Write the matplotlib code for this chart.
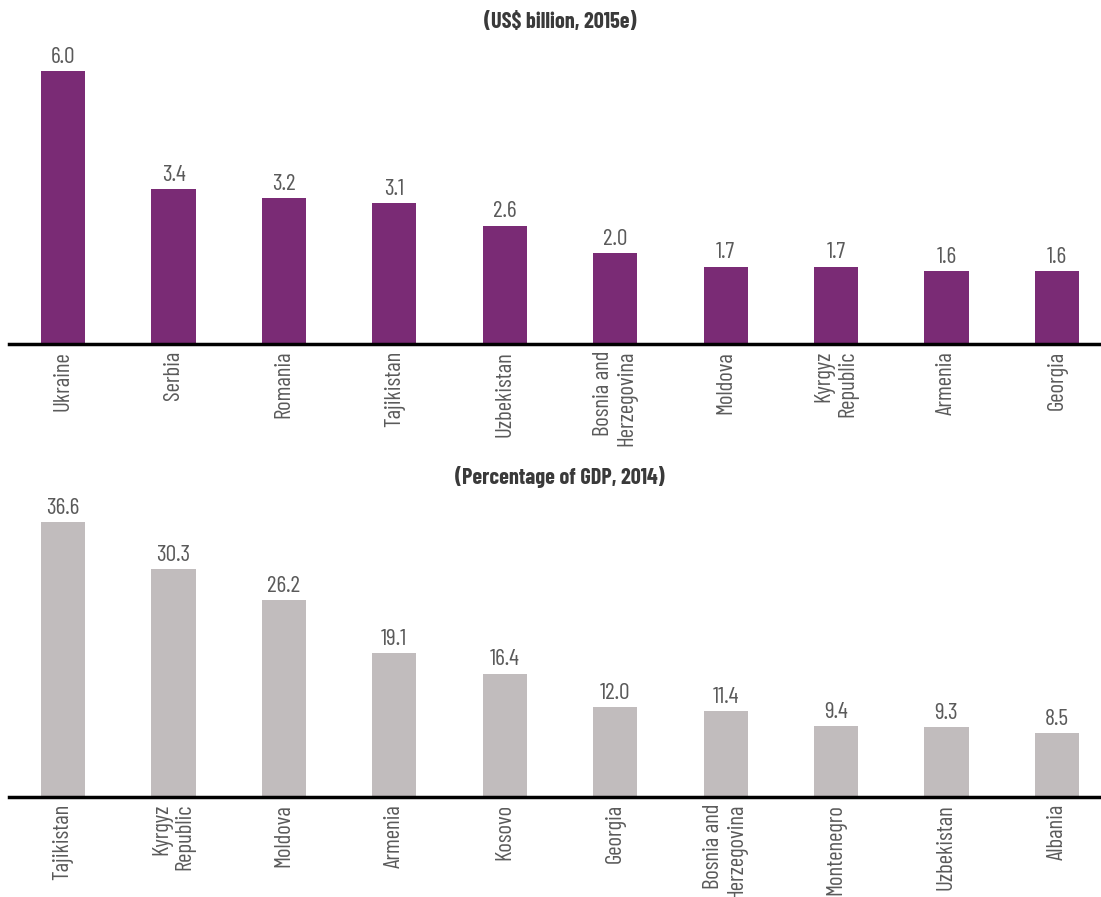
import matplotlib.pyplot as plt

# Remittance inflows
top_countries = ['Ukraine', 'Serbia', 'Romania', 'Tajikistan', 'Uzbekistan',
                 'Bosnia and\nHerzegovina', 'Moldova', 'Kyrgyz\nRepublic', 'Armenia', 'Georgia']
top_values = [6.0, 3.4, 3.2, 3.1, 2.6, 2.0, 1.7, 1.7, 1.6, 1.6]

bottom_countries = ['Tajikistan', 'Kyrgyz\nRepublic', 'Moldova', 'Armenia', 'Kosovo', 'Georgia',
                    'Bosnia and\nHerzegovina', 'Montenegro', 'Uzbekistan', 'Albania']
bottom_values = [36.6, 30.3, 26.2, 19.1, 16.4, 12.0, 11.4, 9.4, 9.3, 8.5]

plt.rcParams['font.family'] = ['Barlow Condensed', 'DejaVu Sans']

W, H = 1101, 897
fig = plt.figure(figsize=(W / 100, H / 100), dpi=100)

txt_color = '#5a5a5a'


def draw(ax, labels, values, color, ymax, title, title_y):
    x = range(len(values))
    ax.bar(x, values, width=0.4, color=color)
    for i, v in zip(x, values):
        ax.annotate(f'{v:.1f}', (i, v), xytext=(0, 6), textcoords='offset points',
                    ha='center', va='baseline', fontsize=17, color=txt_color)
    ax.set_xlim(-0.49, 9.4)
    ax.set_ylim(0, ymax)
    ax.set_xticks(list(x))
    ax.set_xticklabels(labels, rotation=90, fontsize=16.5, color=txt_color,
                       multialignment='right', linespacing=1.15)
    ax.tick_params(axis='x', length=0, pad=5)
    ax.set_yticks([])
    for s in ['top', 'right', 'left']:
        ax.spines[s].set_visible(False)
    ax.spines['bottom'].set_linewidth(2.5)
    ax.spines['bottom'].set_color('black')
    fig.text(560 / W, 1 - title_y / H, title, ha='center', va='center',
             fontsize=16, fontweight='bold', color='#3a3a3a')


# top panel: baseline at y=344 px, 6.0 bar top at y=71 px
ax1 = fig.add_axes([9 / W, 1 - 344 / H, 1092 / W, 304 / H])
draw(ax1, top_countries, top_values, '#7a2b75', 6.0 * 304 / 273,
     '(US$ billion, 2015e)', 22)

# bottom panel: baseline at y=797 px, 36.6 bar top at y=522 px
ax2 = fig.add_axes([9 / W, 1 - 797 / H, 1092 / W, 302 / H])
draw(ax2, bottom_countries, bottom_values, '#c1bcbd', 36.6 * 302 / 275,
     '(Percentage of GDP, 2014)', 477)

fig.savefig('out.png', dpi=100)
